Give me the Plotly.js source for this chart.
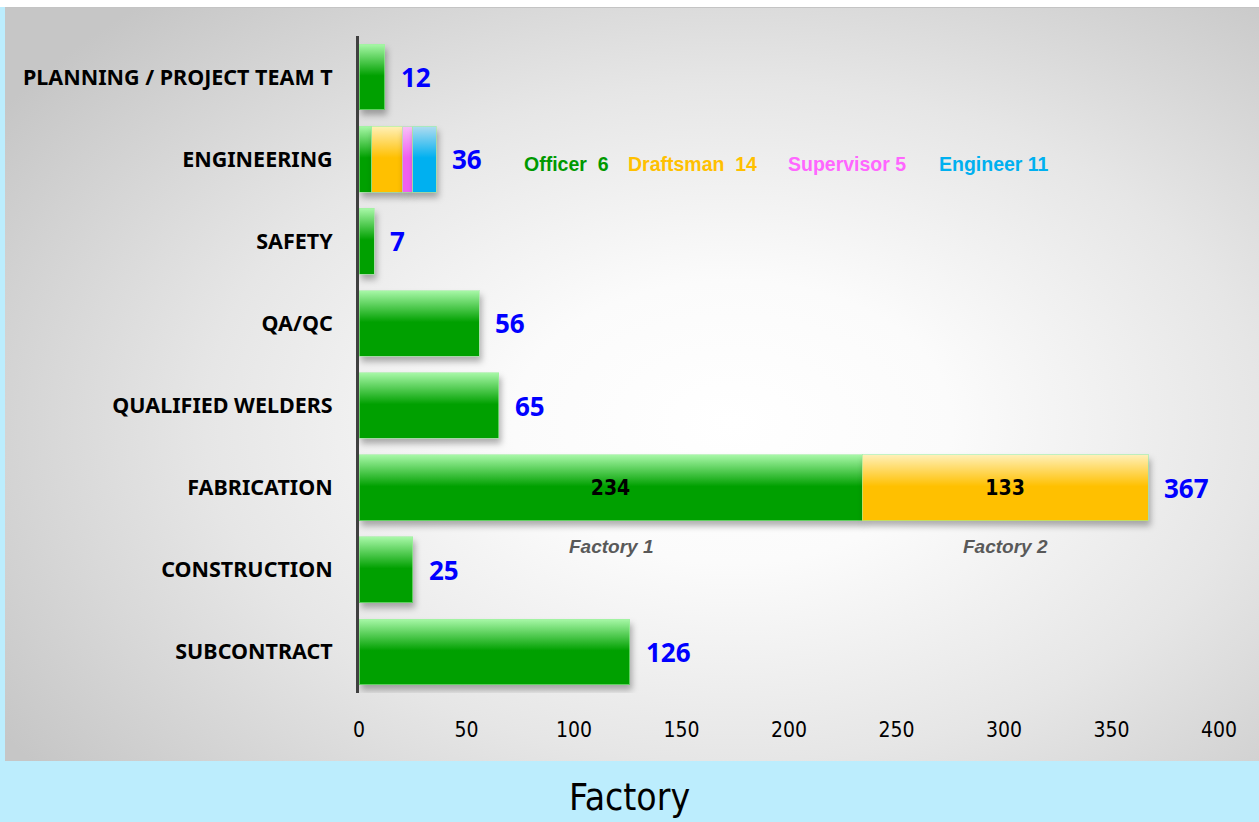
<!DOCTYPE html>
<html>
<head>
<meta charset="utf-8">
<script src="https://cdn.plot.ly/plotly-3.0.1.min.js"></script>
<style>
  html, body { margin:0; padding:0; width:1259px; height:822px; overflow:hidden; background:#BCEDFD; }
  #topstrip { position:absolute; left:0; top:0; width:1259px; height:7px; background:#ffffff; }
  #panel { position:absolute; left:5px; top:7px; width:1254px; height:753px;
    border-top:1px solid #c4c4c4;
    background: radial-gradient(ellipse 70% 75% at 58% 55%, #ffffff 0%, #fbfbfb 25%, #e6e6e6 60%, #c6c6c6 100%); }
  #chart { position:absolute; left:0; top:0; width:1259px; height:822px; }
</style>
</head>
<body>
<div id="topstrip"></div>
<div id="panel"></div>
<div id="chart"></div>
<script>
// ---- data ----
const categories = ['PLANNING / PROJECT TEAM T','ENGINEERING','SAFETY','QA/QC','QUALIFIED WELDERS','FABRICATION','CONSTRUCTION','SUBCONTRACT'];
const totals = [12, 36, 7, 56, 65, 367, 25, 126];
const engRoles = ['Officer', 'Draftsman', 'Supervisor', 'Engineer'];
const engCounts = [6, 14, 5, 11];
const fabLabels = ['Factory 1', 'Factory 2'];
const fabCounts = [234, 133];
const xTicks = [0, 50, 100, 150, 200, 250, 300, 350, 400];

// ---- style ----
const segColors = ['#00A000', '#FFC000', '#F060F0', '#00B0F0'];
const topColors = ['#a8f8a8', '#fff0b8', '#f8c0f8', '#b0dcf0'];
const legendColors = ['#009900', '#FFC000', '#FF66FF', '#00B0F0'];

const iEng = categories.indexOf('ENGINEERING');
const iFab = categories.indexOf('FABRICATION');

const seg0 = totals.map((v, i) => i === iEng ? engCounts[0] : (i === iFab ? fabCounts[0] : v));
const seg0Text = categories.map((c, i) => i === iFab ? String(fabCounts[0]) : '');
const seg1 = categories.map((c, i) => i === iEng ? engCounts[1] : (i === iFab ? fabCounts[1] : null));
const seg1Text = categories.map((c, i) => i === iFab ? String(fabCounts[1]) : '');
const seg2 = categories.map((c, i) => i === iEng ? engCounts[2] : null);
const seg3 = categories.map((c, i) => i === iEng ? engCounts[3] : null);

const insideFont = {family:'Liberation Sans Narrow, DejaVu Sans Condensed, Arial', size:21, color:'#000', weight:'bold'};
function barTrace(x, color, text) {
  return {
    type:'bar', orientation:'h', y:categories, x:x,
    width:0.8,
    marker:{color:color, line:{color:'rgba(160,240,160,0.6)', width:1}},
    text:text || undefined, textposition: text ? 'inside' : 'none',
    insidetextanchor:'middle', textfont:insideFont, textangle:0,
    hoverinfo:'skip'
  };
}
const traces = [
  barTrace(seg0, segColors[0], seg0Text),
  barTrace(seg1, segColors[1], seg1Text),
  barTrace(seg2, segColors[2]),
  barTrace(seg3, segColors[3])
];

const annotations = [];
categories.forEach((c, i) => {
  annotations.push({x: totals[i], y: c, xref:'x', yref:'y', text: String(totals[i]),
    xanchor:'left', yanchor:'middle', xshift:14, yshift:0, showarrow:false,
    font:{family:'Open Sans, Noto Sans, Arial', size:26, color:'#0000FF', weight:'bold'}});
});
const legendX = [0.1895, 0.311, 0.4965, 0.6725];
engRoles.forEach((r, k) => {
  const sep = (k === 0 || k === 1) ? '  ' : ' ';
  annotations.push({x: legendX[k], y: categories[iEng], xref:'paper', yref:'y',
    text: r + sep + engCounts[k], xanchor:'left', yanchor:'middle', yshift:-5, showarrow:false,
    font:{family:'Liberation Sans, Arial', size:19.5, color:legendColors[k], weight:'bold'}});
});
let acc = 0;
fabLabels.forEach((lab, k) => {
  const mid = acc + fabCounts[k] / 2; acc += fabCounts[k];
  annotations.push({x: mid, y: categories[iFab], xref:'x', yref:'y', text: lab,
    xanchor:'center', yanchor:'middle', yshift:-59, showarrow:false,
    font:{family:'Liberation Sans, Arial', size:19, color:'#595959', weight:'bold', style:'italic'}});
});

const layout = {
  width:1259, height:822,
  margin:{l:359, r:40, t:36, b:129},
  paper_bgcolor:'rgba(0,0,0,0)', plot_bgcolor:'rgba(0,0,0,0)',
  barmode:'stack', bargap:0.2,
  showlegend:false,
  title:{text:'Factory', x:0.5, xanchor:'center', y:0.03, yref:'container', yanchor:'middle',
    font:{family:'Liberation Sans Narrow, DejaVu Sans Condensed, Arial', size:37, color:'#000'}},
  xaxis:{range:[0, 400], tickvals:xTicks, ticktext:xTicks.map(String), showgrid:false, zeroline:false,
    showline:false, ticks:'', ticklabelstandoff:22,
    tickfont:{family:'Liberation Sans Narrow, DejaVu Sans Condensed, Arial', size:21, color:'#000'}},
  yaxis:{autorange:'reversed', type:'category', showgrid:false, zeroline:false,
    showline:true, linecolor:'#404040', linewidth:3, ticks:'', ticklabelstandoff:19,
    tickfont:{family:'Noto Sans, Arial', size:21.5, color:'#000', weight:'bold'}},
  annotations:annotations
};

Plotly.newPlot('chart', traces, layout, {staticPlot:true, displayModeBar:false}).then(gd => {
  const ns = 'http://www.w3.org/2000/svg';
  const svg = gd.querySelector('svg.main-svg');
  let defs = svg.querySelector('defs');
  if (!defs) { defs = document.createElementNS(ns, 'defs'); svg.insertBefore(defs, svg.firstChild); }
  segColors.forEach((c, i) => {
    const g = document.createElementNS(ns, 'linearGradient');
    g.setAttribute('id', 'bargrad' + i);
    g.setAttribute('x1', '0'); g.setAttribute('y1', '0'); g.setAttribute('x2', '0'); g.setAttribute('y2', '1');
    [[0, topColors[i]], [0.48, c], [1, c]].forEach(([o, col]) => {
      const s = document.createElementNS(ns, 'stop');
      s.setAttribute('offset', o); s.setAttribute('stop-color', col);
      g.appendChild(s);
    });
    defs.appendChild(g);
  });
  gd.querySelectorAll('.barlayer .trace').forEach((tr, i) => {
    tr.querySelectorAll('path').forEach(p => {
      p.style.fill = 'url(#bargrad' + i + ')';
      p.style.filter = 'drop-shadow(2px 5px 3px rgba(0,0,0,0.30))';
    });
  });
});
</script>
</body>
</html>
